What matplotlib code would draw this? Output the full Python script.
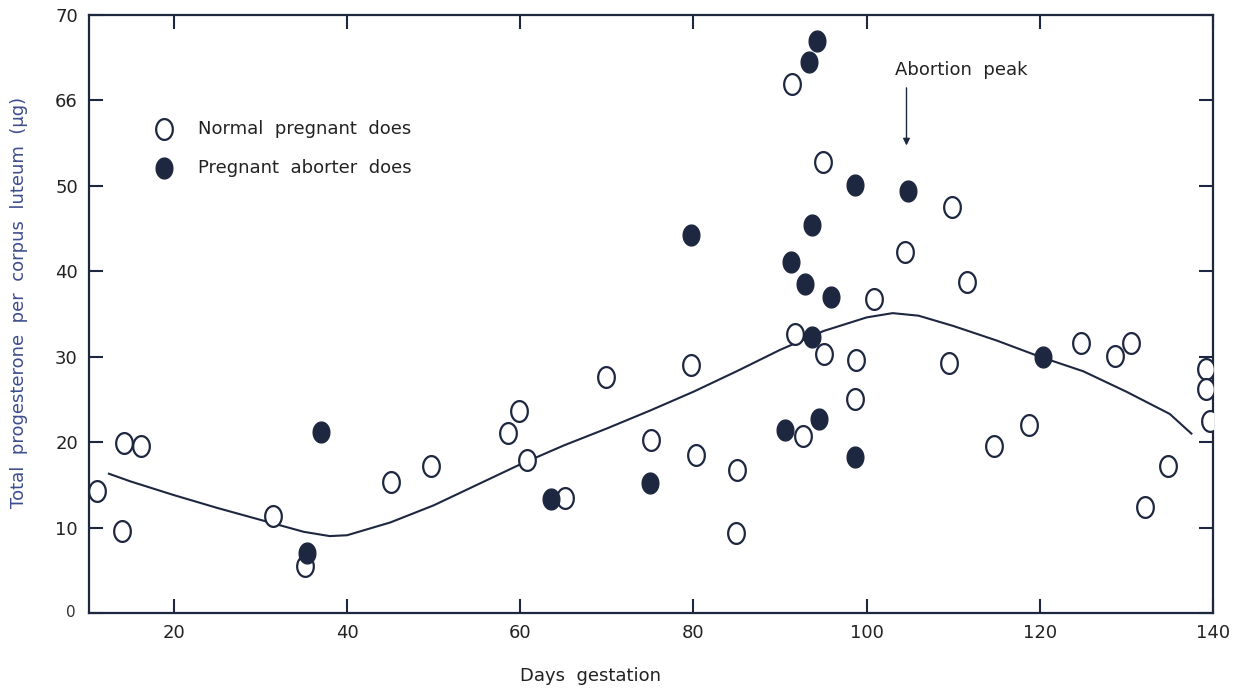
import numpy as np
import matplotlib
matplotlib.use("Agg")
import matplotlib.pyplot as plt
from matplotlib.path import Path

# normal pregnant does (open circles)
normal_days = [11.1, 14.0, 14.2, 16.2, 31.4, 35.1, 45.1, 49.7, 58.6, 59.8,
               60.8, 65.2, 69.9, 75.1, 79.7, 80.3, 85.0, 84.9, 91.4, 91.7,
               92.7, 95.0, 95.1, 98.8, 98.6, 100.9, 104.4, 109.9, 109.5, 111.6,
               114.7, 118.8, 124.7, 128.7, 130.5, 132.1, 134.8, 139.2, 139.2, 139.7]
normal_prog = [14.3, 9.6, 19.9, 19.6, 11.4, 5.5, 15.3, 17.2, 21.1, 23.7,
               17.9, 13.5, 27.6, 20.3, 29.0, 18.5, 16.7, 9.4, 61.9, 32.6,
               20.7, 52.8, 30.3, 29.6, 25.1, 36.7, 42.3, 47.5, 29.3, 38.8,
               19.6, 22.0, 31.6, 30.1, 31.6, 12.4, 17.2, 28.6, 26.2, 22.5]

# pregnant aborter does (filled circles)
aborter_days = [35.4, 37.0, 63.5, 75.0, 79.7, 90.6, 91.3, 92.9, 93.4, 93.7,
                93.7, 94.3, 94.5, 95.9, 98.7, 98.6, 104.8, 120.4]
aborter_prog = [7.0, 21.2, 13.3, 15.2, 44.3, 21.4, 41.1, 38.5, 64.5, 45.4,
                32.3, 66.9, 22.7, 37.0, 50.1, 18.3, 49.4, 30.0]

# hand-drawn trend curve
curve_days = [12.5, 15, 20, 25, 30, 35, 38, 40, 45, 50, 55, 60, 65, 70, 75,
              80, 85, 90, 95, 100, 103, 106, 110, 115, 120, 125, 130, 135, 137.5]
curve_prog = [16.3, 15.4, 13.8, 12.3, 10.9, 9.5, 9.0, 9.1, 10.6, 12.6, 15.0, 17.4,
              19.6, 21.6, 23.7, 25.9, 28.3, 30.8, 33.0, 34.6, 35.1, 34.8, 33.6,
              31.9, 30.0, 28.3, 25.9, 23.3, 21.0]

yticks = [0, 10, 20, 30, 40, 50, 60, 70]
ytick_labels = ["", "10", "20", "30", "40", "50", "66", "70"]
xticks = [20, 40, 60, 80, 100, 120, 140]

ink = "#1e2740"
blue = "#3d4c8c"

# slightly tall ellipse marker like the printed "O"
t = np.linspace(0, 2 * np.pi, 60)
oval = Path(np.column_stack([0.8 * np.cos(t), np.sin(t)]))

fig = plt.figure(figsize=(12.43, 6.91), dpi=100)
ax = fig.add_axes([0.0716, 0.1129, 0.9043, 0.8654])

ax.plot(curve_days, curve_prog, color=ink, lw=1.5, zorder=2)
ax.plot(normal_days, normal_prog, linestyle="none", marker=oval, markersize=15,
        markerfacecolor="white", markeredgecolor=ink, markeredgewidth=1.6, zorder=3)
ax.plot(aborter_days, aborter_prog, linestyle="none", marker=oval, markersize=15,
        markerfacecolor=ink, markeredgecolor=ink, markeredgewidth=1.0, zorder=4)

ax.set_xlim(10.2, 140)
ax.set_ylim(0, 70)
ax.set_xticks(xticks)
ax.set_xticklabels([str(v) for v in xticks], fontsize=13, color="#222222")
ax.set_yticks(yticks)
ax.set_yticklabels(ytick_labels, fontsize=13, color="#222222")
ax.tick_params(direction="in", length=10, width=1.5, color=ink,
               top=True, right=True, pad=8)
for s in ax.spines.values():
    s.set_color(ink)
    s.set_linewidth(1.6)

ax.text(-0.012, 0.0, "0", transform=ax.transAxes, ha="right", va="center",
        fontsize=11, color="#333333")

ax.set_xlabel("Days  gestation", fontsize=13, color="#222222")
ax.xaxis.set_label_coords(0.446, -0.09)
ax.set_ylabel("Total  progesterone  per  corpus  luteum  (\u03bcg)", fontsize=13,
              color=blue)
ax.yaxis.set_label_coords(-0.054, 0.52)

# legend drawn by hand as in the print
ax.plot([18.9], [56.6], linestyle="none", marker=oval, markersize=15,
        markerfacecolor="white", markeredgecolor=ink, markeredgewidth=1.6)
ax.plot([18.9], [52.1], linestyle="none", marker=oval, markersize=15,
        markerfacecolor=ink, markeredgecolor=ink)
ax.text(22.8, 56.6, "Normal  pregnant  does", fontsize=13, color="#222222", va="center")
ax.text(22.8, 52.1, "Pregnant  aborter  does", fontsize=13, color="#222222", va="center")

ax.annotate("", xy=(104.6, 54.4), xytext=(104.6, 61.8),
            arrowprops=dict(arrowstyle="-|>", color=ink, lw=1.0, mutation_scale=10))
ax.text(103.3, 63.6, "Abortion  peak", fontsize=13, color="#222222", va="center")

fig.savefig("out.png", dpi=100)
